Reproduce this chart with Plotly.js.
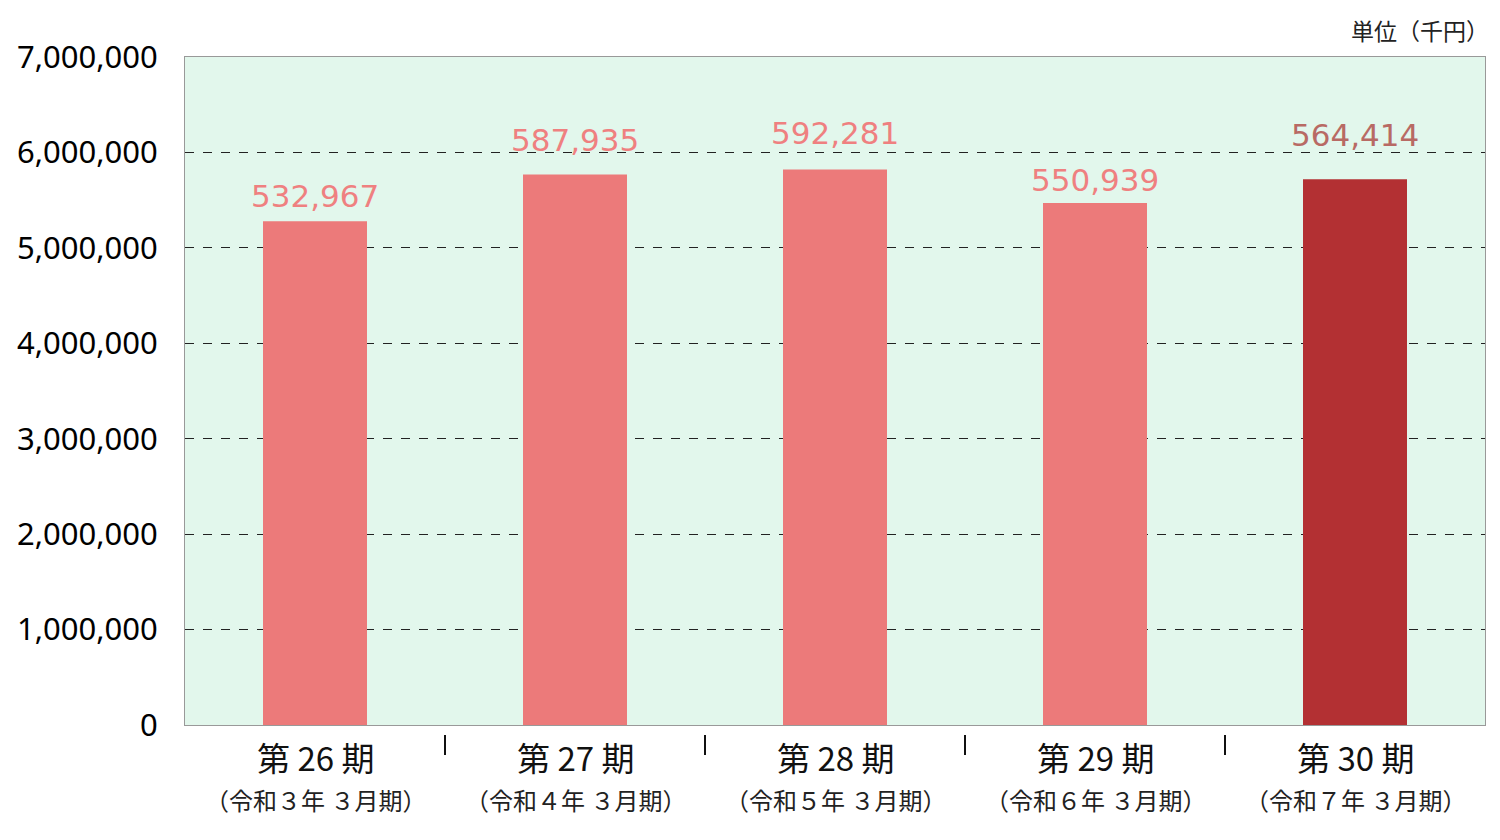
<!DOCTYPE html>
<html>
<head>
<meta charset="utf-8">
<script src="https://cdn.plot.ly/plotly-3.0.1.min.js"></script>
<style>html,body{margin:0;padding:0;background:#fff;}#chart{width:1500px;height:840px;}</style>
</head>
<body>
<div id="chart"></div>
<script>
// Data
const periods = ["第 26 期", "第 27 期", "第 28 期", "第 29 期", "第 30 期"];
const subLabels = ["（令和３年 ３月期）", "（令和４年 ３月期）", "（令和５年 ３月期）", "（令和６年 ３月期）", "（令和７年 ３月期）"];
const barHeights = [5280000, 5770000, 5820000, 5470000, 5720000];
const labelValues = [532967, 587935, 592281, 550939, 564414];
const yTickVals = [0, 1000000, 2000000, 3000000, 4000000, 5000000, 6000000, 7000000];

const barColors = ["#ec7a7a", "#ec7a7a", "#ec7a7a", "#ec7a7a", "#b33033"];
const labelColors = ["#ef8080", "#ef8080", "#ef8080", "#ef8080", "#b86a64"];
const labelShift = [25, 34, 37, 23, 44];

const fmt = v => v.toLocaleString("en-US");

const xIdx = periods.map((_, i) => i);

const trace = {
  type: "bar",
  x: xIdx,
  y: barHeights,
  width: 0.4,
  marker: {color: barColors},
  hoverinfo: "skip"
};

const annotations = labelValues.map((v, i) => ({
  x: i, y: barHeights[i], xref: "x", yref: "y",
  text: fmt(v), showarrow: false, yanchor: "middle", yshift: labelShift[i],
  font: {family: "DejaVu Sans, Verdana, sans-serif", size: 31, color: labelColors[i]}
}));
annotations.push({
  x: 1, y: 1, xref: "paper", yref: "paper", xanchor: "right", yanchor: "bottom", yshift: 8, xshift: 6,
  text: "単位（千円）", showarrow: false,
  font: {family: "Noto Sans CJK JP, sans-serif", size: 23, color: "#222"}
});
periods.forEach((p, i) => {
  annotations.push({
    x: i, y: 0, xref: "x", yref: "paper", yanchor: "middle", yshift: -32,
    text: p, showarrow: false,
    font: {family: "Noto Sans CJK JP, sans-serif", size: 33, color: "#111"}
  });
  annotations.push({
    x: i, y: 0, xref: "x", yref: "paper", yanchor: "middle", yshift: -74,
    text: subLabels[i], showarrow: false,
    font: {family: "Noto Sans CJK JP, sans-serif", size: 24, color: "#222"}
  });
});

const shapes = [];
for (let i = 0; i < periods.length - 1; i++) {
  shapes.push({
    type: "line", xref: "x", yref: "paper",
    x0: i + 0.5, x1: i + 0.5, y0: -0.015, y1: -0.045,
    line: {color: "#111", width: 2}
  });
}

const layout = {
  width: 1500, height: 840,
  margin: {l: 185, r: 15, t: 57, b: 115},
  paper_bgcolor: "#ffffff",
  plot_bgcolor: "#e2f7ec",
  showlegend: false,
  bargap: 0.6,
  xaxis: {
    range: [-0.5, 4.5],
    tickvals: xIdx,
    showticklabels: false,
    showgrid: false,
    zeroline: false,
    showline: true, linecolor: "#999", linewidth: 1, mirror: true,
    fixedrange: true
  },
  yaxis: {
    range: [0, 7000000],
    tickvals: yTickVals,
    ticktext: yTickVals.map(fmt),
    tickfont: {family: "Noto Sans, sans-serif", size: 31, color: "#000"},
    ticklabelstandoff: 20,
    showgrid: true, gridcolor: "#222", griddash: "dash", gridwidth: 1,
    zeroline: false,
    showline: true, linecolor: "#999", linewidth: 1, mirror: true,
    fixedrange: true
  },
  annotations: annotations,
  shapes: shapes
};

Plotly.newPlot("chart", [trace], layout, {displayModeBar: false, staticPlot: true});
</script>
</body>
</html>
